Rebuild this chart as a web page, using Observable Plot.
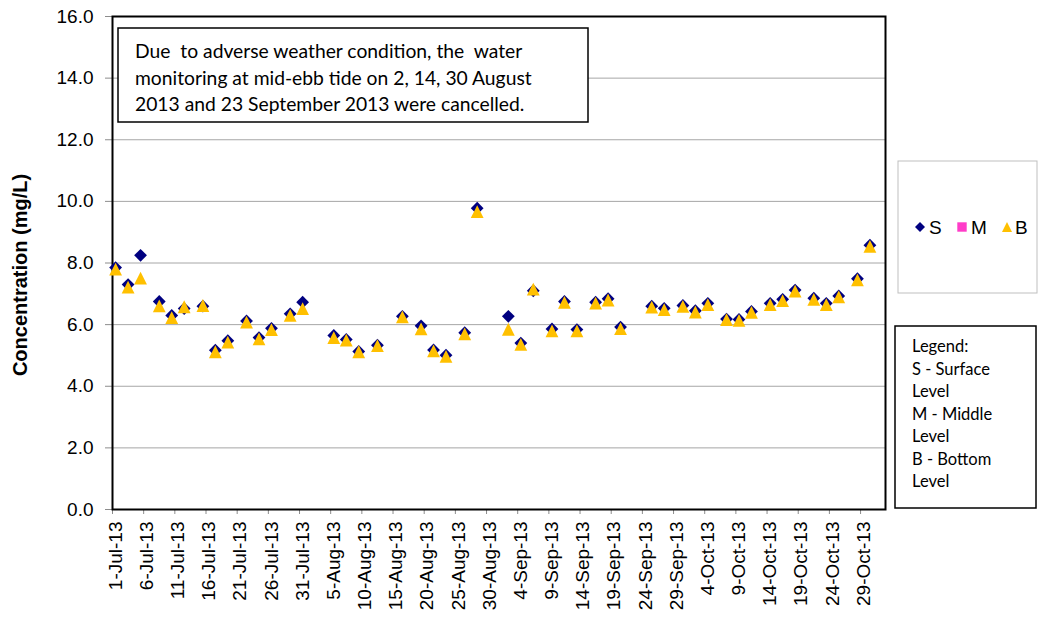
<!DOCTYPE html>
<html><head><meta charset="utf-8">
<script src="https://cdn.jsdelivr.net/npm/d3@7"></script>
<script src="https://cdn.jsdelivr.net/npm/@observablehq/plot@0.6"></script>
<style>
html,body{margin:0;padding:0;background:#fff;}
</style>
</head><body><div id="chart"></div>
<script>
// ---- data ----
const dates = [
  "2013-07-01","2013-07-03","2013-07-05","2013-07-08","2013-07-10","2013-07-12","2013-07-15",
  "2013-07-17","2013-07-19","2013-07-22","2013-07-24","2013-07-26","2013-07-29","2013-07-31",
  "2013-08-05","2013-08-07","2013-08-09","2013-08-12","2013-08-16","2013-08-19","2013-08-21",
  "2013-08-23","2013-08-26","2013-08-28",
  "2013-09-02","2013-09-04","2013-09-06","2013-09-09","2013-09-11","2013-09-13","2013-09-16",
  "2013-09-18","2013-09-20","2013-09-25","2013-09-27","2013-09-30",
  "2013-10-02","2013-10-04","2013-10-07","2013-10-09","2013-10-11","2013-10-14","2013-10-16",
  "2013-10-18","2013-10-21","2013-10-23","2013-10-25","2013-10-28","2013-10-30"
];
const surface = [
  7.85, 7.30, 8.25, 6.75, 6.30, 6.52, 6.60, 5.17, 5.48, 6.12, 5.58, 5.88, 6.35, 6.73,
  5.65, 5.52, 5.13, 5.33, 6.27, 5.96, 5.18, 5.01, 5.74, 9.78,
  6.27, 5.40, 7.10, 5.86, 6.75, 5.84, 6.73, 6.84, 5.92, 6.60, 6.53, 6.62,
  6.45, 6.69, 6.18, 6.17, 6.43, 6.69, 6.82, 7.12, 6.86, 6.69, 6.93, 7.49, 8.58
];
const middle = []; // no middle-level values shown
const bottom = [
  7.80, 7.22, 7.51, 6.61, 6.23, 6.58, 6.62, 5.12, 5.43, 6.08, 5.54, 5.84, 6.30, 6.52,
  5.58, 5.50, 5.12, 5.32, 6.25, 5.86, 5.15, 4.97, 5.70, 9.67,
  5.85, 5.36, 7.15, 5.80, 6.72, 5.80, 6.70, 6.80, 5.87, 6.57, 6.49, 6.59,
  6.41, 6.65, 6.16, 6.14, 6.40, 6.65, 6.78, 7.09, 6.82, 6.65, 6.90, 7.45, 8.54
];
const xTickDates = [
  "2013-07-01","2013-07-06","2013-07-11","2013-07-16","2013-07-21","2013-07-26","2013-07-31",
  "2013-08-05","2013-08-10","2013-08-15","2013-08-20","2013-08-25","2013-08-30",
  "2013-09-04","2013-09-09","2013-09-14","2013-09-19","2013-09-24","2013-09-29",
  "2013-10-04","2013-10-09","2013-10-14","2013-10-19","2013-10-24","2013-10-29"
];
const xDomain = ["2013-07-01","2013-11-02"];
const yTicks = [0, 2, 4, 6, 8, 10, 12, 14, 16];
const gridTicks = [2, 4, 6, 8, 10, 12, 14];
const seriesNames = ["S", "M", "B"];
const seriesColors = ["#000080", "#ff3cc8", "#ffc000"];
const yTitle = "Concentration (mg/L)";
const noteLines = [
  "Due  to adverse weather condition, the  water",
  "monitoring at mid-ebb tide on 2, 14, 30 August",
  "2013 and 23 September 2013 were cancelled."
];
const legendLines = ["Legend:", "S - Surface", "Level", "M - Middle", "Level", "B - Bottom", "Level"];

// ---- helpers ----
const noon = s => new Date(s + "T12:00:00Z");
const midnight = s => new Date(s + "T00:00:00Z");
const rowsS = dates.map((d, i) => ({date: noon(d), v: surface[i]}));
const rowsM = middle.map((v, i) => ({date: noon(dates[i]), v}));
const rowsB = dates.map((d, i) => ({date: noon(d), v: bottom[i]}));

const diamond = {draw(ctx, size) { const r = Math.sqrt(size / Math.PI);
  ctx.moveTo(0, -r); ctx.lineTo(r, 0); ctx.lineTo(0, r); ctx.lineTo(-r, 0); ctx.closePath(); }};
const triangle = {draw(ctx, size) { const r = Math.sqrt(size / Math.PI);
  ctx.moveTo(0, -r); ctx.lineTo(r, r); ctx.lineTo(-r, r); ctx.closePath(); }};
const square = {draw(ctx, size) { const r = Math.sqrt(size / Math.PI);
  ctx.rect(-r, -r, 2 * r, 2 * r); }};

const fmt = d3.utcFormat("%-d-%b-%y");
const FONT = "'Liberation Sans', Arial, sans-serif";

const plot = Plot.plot({
  width: 1045, height: 629,
  marginLeft: 112, marginRight: 160, marginTop: 16, marginBottom: 120,
  style: {fontFamily: FONT, fontSize: "19px", color: "black", background: "white", overflow: "visible"},
  x: {type: "utc", domain: xDomain.map(midnight)},
  y: {domain: [0, 16]},
  marks: [
    Plot.gridY(gridTicks, {stroke: "#a6a6a6", strokeOpacity: 1, strokeWidth: 1}),
    Plot.axisX(xTickDates.map(midnight), {tickSize: 5, tickFormat: () => "", stroke: "#8c8c8c", label: null}),
    Plot.axisX(xTickDates.map(noon), {tickSize: 0, tickPadding: 12, tickRotate: -90, tickFormat: fmt, fontSize: 19, fill: "black", label: null}),
    Plot.axisY(yTicks, {tickSize: 7, tickPadding: 12, tickFormat: d3.format(".1f"), stroke: "#8c8c8c", fill: "black", fontSize: 19, label: null}),
    Plot.frame({stroke: "black", strokeWidth: 2}),
    Plot.dot(rowsS, {x: "date", y: "v", symbol: diamond, r: 6.4, fill: seriesColors[0], stroke: null}),
    Plot.dot(rowsM, {x: "date", y: "v", symbol: square, r: 5, fill: seriesColors[1], stroke: null}),
    Plot.dot(rowsB, {x: "date", y: "v", symbol: triangle, r: 6.4, fill: seriesColors[2], stroke: null})
  ]
});
document.getElementById("chart").appendChild(plot);

const svg = d3.select(plot);
// axis title
svg.append("text")
  .attr("transform", "translate(20,275) rotate(-90)")
  .attr("text-anchor", "middle").attr("dy", "0.35em")
  .style("font-family", FONT).style("font-size", "20px").style("font-weight", "bold")
  .attr("fill", "black").text(yTitle);

// annotation box
const BODY = "Lato, 'Open Sans', sans-serif";
svg.append("rect").attr("x", 118).attr("y", 28).attr("width", 470).attr("height", 94)
  .attr("fill", "white").attr("stroke", "black").attr("stroke-width", 1.5);
const noteG = svg.append("g").attr("text-anchor", "start").style("font-family", BODY).style("font-size", "18px");
const noteTexts = noteLines.map((t, i) => noteG.append("text").attr("x", 135).attr("y", 58 + i * 26.5)
  .attr("text-anchor", "start").attr("fill", "black").text(t));
{
  const len = noteTexts[1].node().getComputedTextLength();
  if (len > 0) noteG.style("font-size", (18 * 397 / len).toFixed(2) + "px");
}

// legend 1 (series)
svg.append("rect").attr("x", 898).attr("y", 161).attr("width", 139).attr("height", 132)
  .attr("fill", "white").attr("stroke", "#bfbfbf").attr("stroke-width", 1);
const legY = 227;
const legItems = [
  {sym: diamond, r: 5, cx: 920, tx: 929},
  {sym: square, r: 4.7, cx: 962, tx: 971},
  {sym: triangle, r: 5, cx: 1007, tx: 1015}
];
legItems.forEach((it, i) => {
  svg.append("path").attr("transform", `translate(${it.cx},${legY})`)
    .attr("d", d3.symbol(it.sym, it.r * it.r * Math.PI)()).attr("fill", seriesColors[i]);
  svg.append("text").attr("x", it.tx).attr("y", legY + 7).attr("text-anchor", "start")
    .style("font-family", FONT).style("font-size", "19px").attr("fill", "black").text(seriesNames[i]);
});

// legend 2 (text)
svg.append("rect").attr("x", 895).attr("y", 326).attr("width", 141).attr("height", 182)
  .attr("fill", "white").attr("stroke", "black").attr("stroke-width", 1.5);
const lg = svg.append("g").attr("text-anchor", "start").style("font-family", BODY).style("font-size", "18px");
const lgTexts = legendLines.map((t, i) => lg.append("text").attr("x", 912).attr("y", 352 + i * 22.5)
  .attr("text-anchor", "start").attr("fill", "black").text(t));
{
  const len = lgTexts[1].node().getComputedTextLength();
  if (len > 0) lg.style("font-size", (18 * 78 / len).toFixed(2) + "px");
}
</script>
</body></html>
